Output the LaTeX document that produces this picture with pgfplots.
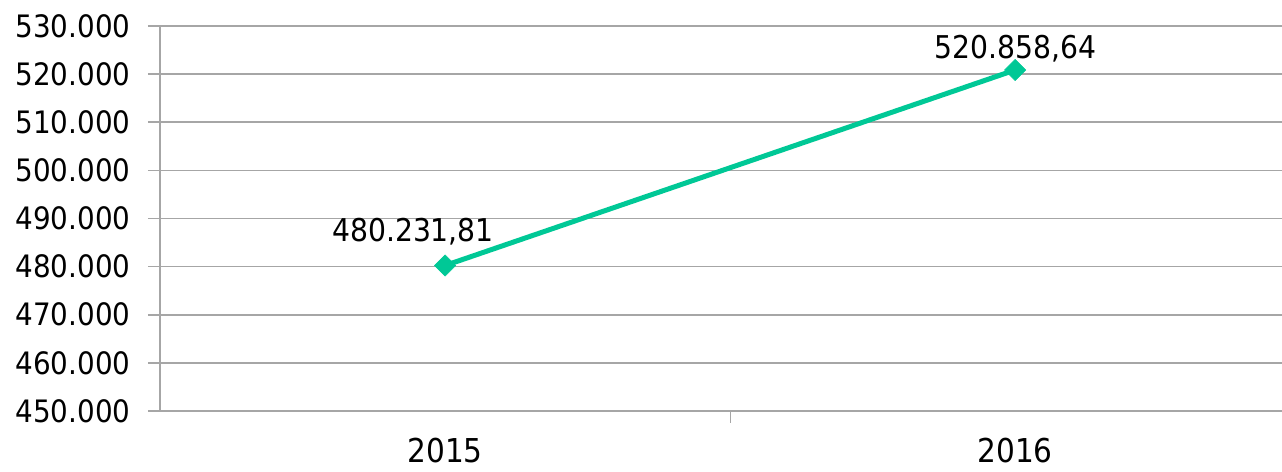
\documentclass[border=0pt]{standalone}
\usepackage{pgfplots}
\pgfplotsset{compat=1.18}
\usepackage{fontspec}
\setmainfont{DejaVu Sans Condensed}
\definecolor{linegreen}{RGB}{0,200,150}
\definecolor{gridgray}{RGB}{166,166,166}
\begin{document}
\begin{tikzpicture}
\useasboundingbox (-160bp,-61bp) rectangle (1122bp,411bp);
\begin{axis}[
  at={(0,0)}, anchor=south west,
  scale only axis,
  width=1122bp, height=385bp,
  xmin=-0.5, xmax=1.468,
  ymin=450000, ymax=530000,
  ytick={450000,460000,...,530000},
  xtick={0.5},
  xticklabels={\empty},
  extra x ticks={0,1},
  extra x tick labels={2015,2016},
  extra x tick style={major tick length=0pt, xticklabel style={font=\fontsize{33}{37}\selectfont, yshift=-24bp}},
  ymajorgrids,
  grid style={gridgray, line width=1.6bp},
  axis line style={gridgray, line width=1.6bp},
  axis x line*=bottom,
  axis y line*=left,
  tick align=outside,
  major tick length=12bp,
  tick style={gridgray, line width=1.6bp},
  xtick style={line width=1.2bp},
  yticklabel={\pgfmathprintnumber[fixed, precision=0, 1000 sep={.}, assume math mode=true]{\tick}},
  scaled y ticks=false,
  yticklabel style={font=\fontsize{31}{35}\selectfont, xshift=-14bp},
  clip=false,
]
\addplot[linegreen, line width=5bp, mark=square*, mark size=7.5bp, mark options={rotate=45, fill=linegreen, draw=linegreen, line width=0.5bp}]
  coordinates {(0,480231.81) (1,520858.64)};
\addplot[draw=none, nodes near coords={480.231,81}, nodes near coords style={font=\fontsize{31.5}{36}\selectfont, anchor=south, inner sep=0pt, yshift=20bp, xshift=-32bp}]
  coordinates {(0,480231.81)};
\addplot[draw=none, nodes near coords={520.858,64}, nodes near coords style={font=\fontsize{31.5}{36}\selectfont, anchor=south, inner sep=0pt, yshift=8bp}]
  coordinates {(1,520858.64)};
\end{axis}
\end{tikzpicture}
\end{document}
